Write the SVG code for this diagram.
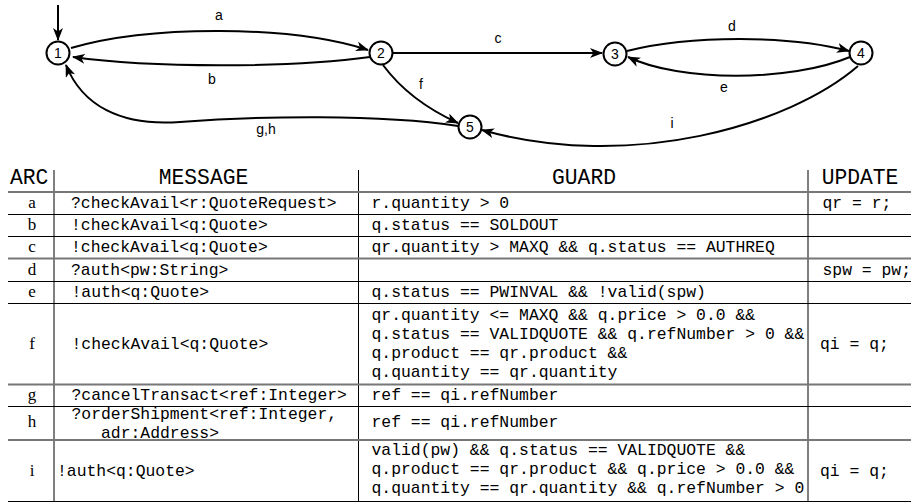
<svg xmlns="http://www.w3.org/2000/svg" width="911" height="502" viewBox="0 0 911 502">
<style>
.node circle{fill:#fff;stroke:#000;stroke-width:2}
.node text,.lbl{font-family:"Liberation Sans",Arial,sans-serif;font-size:14px;text-anchor:middle;fill:#000}
.edge{fill:none;stroke:#000;stroke-width:2;marker-end:url(#arr)}
.tt{font-family:"Liberation Mono","Courier New",monospace;font-size:16.4px;fill:#000}
.hd{font-family:"Liberation Mono","Courier New",monospace;font-size:21.3px;fill:#000}
.rm{font-family:"Liberation Serif","Times New Roman",serif;font-size:17px;text-anchor:middle;fill:#000}
.mid{text-anchor:middle}
.rb{stroke:#000;stroke-width:1}
.rg{stroke:#777;stroke-width:2}
.vl{stroke:#000;stroke-width:1}
</style>
<defs>
<marker id="arr" viewBox="0 0 13 10" refX="12" refY="5" markerWidth="13" markerHeight="10" markerUnits="userSpaceOnUse" orient="auto">
<path d="M0,0 L13,5 L0,10 L3.5,5 Z" fill="#000"/>
</marker>
</defs>

<g id="connectors">
<path class="edge" d="M58,5 L58,40"/>
<path class="edge" d="M71,48 C150,25 290,25 368,50"/>
<path class="edge" d="M370,57 C290,68 150,68 73,57"/>
<path class="edge" d="M393,53 L602,53"/>
<path class="edge" d="M627,51 C690,35 790,35 849,51"/>
<path class="edge" d="M850,57 C790,82 680,82 628,57"/>
<path class="edge" d="M383,65 C400,88 425,108 458,123"/>
<path class="edge" d="M458,126 C380,114 260,116 180,122 C120,126.5 82,105 66,65"/>
<path class="edge" d="M858,66 C790,125 630,172 482,130"/>
</g>
<g id="edge-labels">
<text class="lbl" x="219" y="20">a</text>
<text class="lbl" x="212" y="84">b</text>
<text class="lbl" x="498" y="43">c</text>
<text class="lbl" x="732" y="31">d</text>
<text class="lbl" x="724" y="92">e</text>
<text class="lbl" x="421" y="89">f</text>
<text class="lbl" x="266" y="134">g,h</text>
<text class="lbl" x="672" y="128">i</text>
</g>

<g id="n1" class="node"><circle cx="58" cy="53" r="11.5"/><text x="58" y="58">1</text></g>
<g id="n2" class="node"><circle cx="381" cy="53" r="11.5"/><text x="381" y="58">2</text></g>
<g id="n3" class="node"><circle cx="615" cy="54" r="11.5"/><text x="615" y="59">3</text></g>
<g id="n4" class="node"><circle cx="861" cy="53" r="11.5"/><text x="861" y="58">4</text></g>
<g id="n5" class="node"><circle cx="470" cy="127" r="11.5"/><text x="470" y="132">5</text></g>

<g id="table">
<line class="vl" x1="54" y1="170" x2="54" y2="501.5"/>
<line class="vl" x1="358.5" y1="170" x2="358.5" y2="501.5"/>
<line class="vl" x1="808" y1="170" x2="808" y2="501.5"/>
<line class="rg" x1="8" y1="192" x2="911" y2="192"/>
<line class="rb" x1="8" y1="214.5" x2="911" y2="214.5"/>
<line class="rb" x1="8" y1="236.5" x2="911" y2="236.5"/>
<line class="rg" x1="8" y1="258.5" x2="911" y2="258.5"/>
<line class="rb" x1="8" y1="281.5" x2="911" y2="281.5"/>
<line class="rb" x1="8" y1="303.5" x2="911" y2="303.5"/>
<line class="rg" x1="8" y1="384.5" x2="911" y2="384.5"/>
<line class="rb" x1="8" y1="406.5" x2="911" y2="406.5"/>
<line class="rg" x1="8" y1="440" x2="911" y2="440"/>
<line class="rb" x1="8" y1="501.5" x2="911" y2="501.5"/>

<text class="hd" x="10" y="184">ARC</text>
<text class="hd mid" x="203.5" y="184">MESSAGE</text>
<text class="hd mid" x="584" y="184">GUARD</text>
<text class="hd mid" x="860" y="184">UPDATE</text>

<text class="rm" x="32" y="208">a</text>
<text class="tt" x="71" y="208">?checkAvail&lt;r:QuoteRequest&gt;</text>
<text class="tt" x="371.5" y="208">r.quantity &gt; 0</text>
<text class="tt" x="822.5" y="208">qr = r;</text>

<text class="rm" x="32" y="230">b</text>
<text class="tt" x="71" y="230">!checkAvail&lt;q:Quote&gt;</text>
<text class="tt" x="371.5" y="230">q.status == SOLDOUT</text>

<text class="rm" x="32" y="252">c</text>
<text class="tt" x="71" y="252">!checkAvail&lt;q:Quote&gt;</text>
<text class="tt" x="371.5" y="252">qr.quantity &gt; MAXQ &amp;&amp; q.status == AUTHREQ</text>

<text class="rm" x="32" y="274.5">d</text>
<text class="tt" x="71" y="274.5">?auth&lt;pw:String&gt;</text>
<text class="tt" x="822.5" y="274.5">spw = pw;</text>

<text class="rm" x="32" y="297">e</text>
<text class="tt" x="71.5" y="297">!auth&lt;q:Quote&gt;</text>
<text class="tt" x="371.5" y="297">q.status == PWINVAL &amp;&amp; !valid(spw)</text>

<text class="rm" x="32" y="348.5">f</text>
<text class="tt" x="71.5" y="348.5">!checkAvail&lt;q:Quote&gt;</text>
<text class="tt" x="371.5" y="320">qr.quantity &lt;= MAXQ &amp;&amp; q.price &gt; 0.0 &amp;&amp;</text>
<text class="tt" x="371.5" y="339.3">q.status == VALIDQUOTE &amp;&amp; q.refNumber &gt; 0 &amp;&amp;</text>
<text class="tt" x="371.5" y="358.3">q.product == qr.product &amp;&amp;</text>
<text class="tt" x="371.5" y="377">q.quantity == qr.quantity</text>
<text class="tt" x="820" y="348.5">qi = q;</text>

<text class="rm" x="32" y="400">g</text>
<text class="tt" x="71.5" y="399.5">?cancelTransact&lt;ref:Integer&gt;</text>
<text class="tt" x="371.5" y="400">ref == qi.refNumber</text>

<text class="rm" x="32" y="427">h</text>
<text class="tt" x="71.5" y="419.3">?orderShipment&lt;ref:Integer,</text>
<text class="tt" x="101" y="438">adr:Address&gt;</text>
<text class="tt" x="371.5" y="427">ref == qi.refNumber</text>

<text class="rm" x="32" y="476">i</text>
<text class="tt" x="57" y="476">!auth&lt;q:Quote&gt;</text>
<text class="tt" x="371.5" y="455">valid(pw) &amp;&amp; q.status == VALIDQUOTE &amp;&amp;</text>
<text class="tt" x="371.5" y="474.3">q.product == qr.product &amp;&amp; q.price &gt; 0.0 &amp;&amp;</text>
<text class="tt" x="371.5" y="493.3">q.quantity == qr.quantity &amp;&amp; q.refNumber &gt; 0</text>
<text class="tt" x="820" y="476">qi = q;</text>
</g>
</svg>
